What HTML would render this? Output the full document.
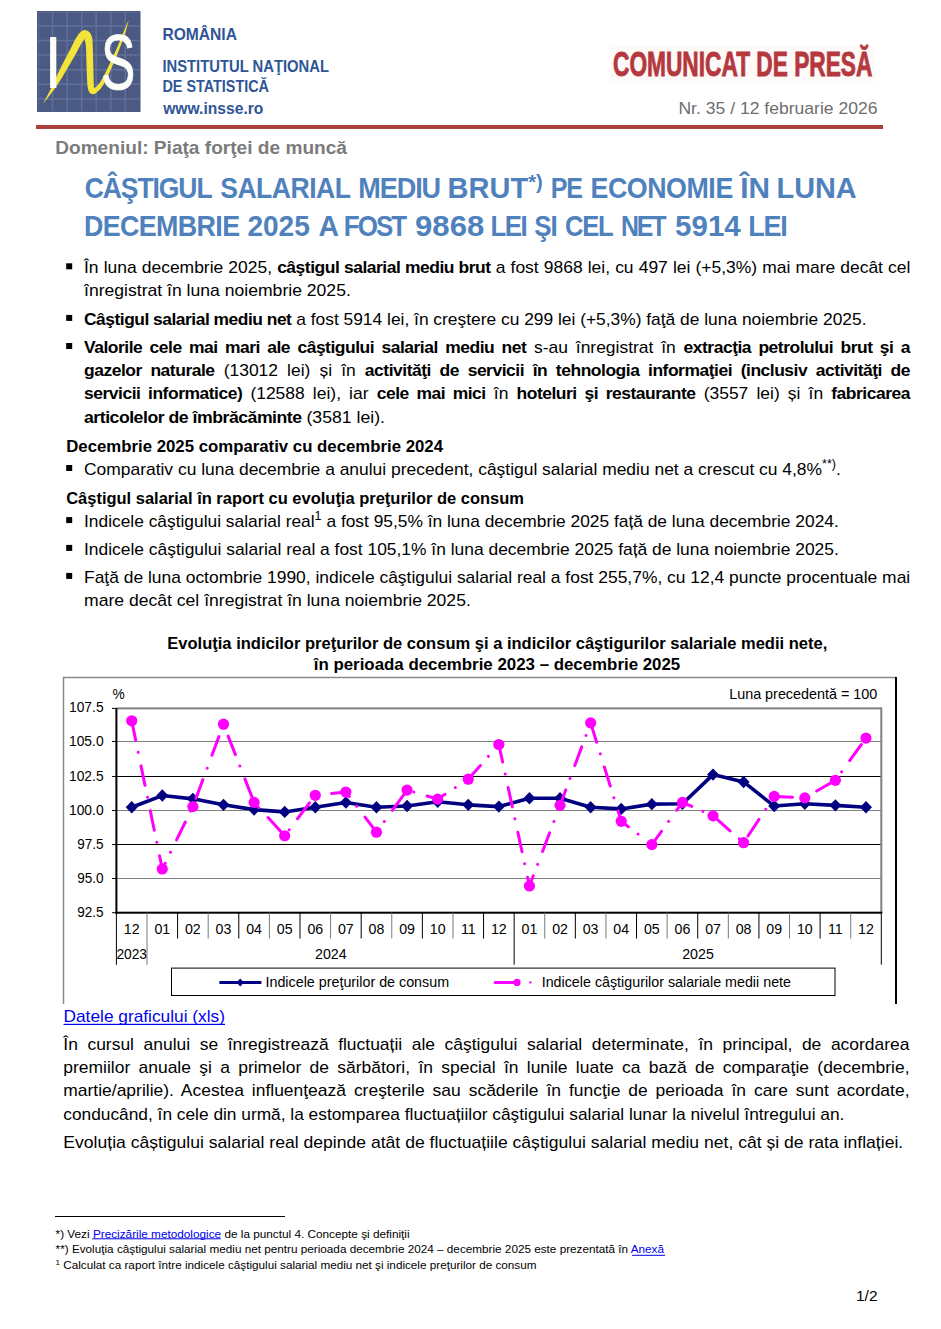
<!DOCTYPE html><html lang="ro"><head><meta charset="utf-8"><title>Comunicat de presă</title>
<style>html,body{margin:0;padding:0;background:#fff}body{width:941px;height:1329px;overflow:hidden}svg{display:block}text{font-family:'Liberation Sans', Arial, sans-serif}</style></head><body>
<svg width="941" height="1329" viewBox="0 0 941 1329">
<rect width="941" height="1329" fill="#fff"/>
<g id="logo">
<rect x="37" y="11" width="103.5" height="101" fill="#4b5a82"/>
<path d="M52.5 12V111 M67.1 12V111 M81.7 12V111 M96.2 12V111 M110.8 12V111 M125.3 12V111 M38 25.9H139.5 M38 40.5H139.5 M38 55.1H139.5 M38 69.7H139.5 M38 84.3H139.5 M38 98.9H139.5" stroke="#6676a0" stroke-width="1.5" fill="none" opacity="0.8"/>
<path d="M39 12V111M38 12.3H139.5" stroke="#6676a0" stroke-width="1.5" fill="none" opacity="0.35"/>
<path d="M43.73 102.98 L44.28 102.27 L45.02 101.33 L45.90 100.21 L46.88 98.95 L47.92 97.62 L48.97 96.25 L50.01 94.90 L50.98 93.61 L51.90 92.37 L52.82 91.14 L53.75 89.90 L54.68 88.64 L55.61 87.35 L56.56 86.00 L57.53 84.60 L58.51 83.12 L59.51 81.55 L60.54 79.90 L61.58 78.19 L62.62 76.44 L63.66 74.68 L64.70 72.91 L65.72 71.18 L66.72 69.48 L67.72 67.81 L68.72 66.11 L69.73 64.41 L70.73 62.72 L71.72 61.03 L72.69 59.37 L73.63 57.73 L74.54 56.14 L75.42 54.55 L76.27 52.98 L77.09 51.43 L77.89 49.92 L78.64 48.49 L79.37 47.14 L80.05 45.90 L80.69 44.78 L81.29 43.74 L81.86 42.79 L82.37 41.93 L82.85 41.17 L83.29 40.51 L83.70 39.95 L84.09 39.48 L84.47 39.09 L84.85 38.78 L85.19 38.57 L85.45 38.49 L85.57 38.54 L85.52 38.70 L85.24 38.89 L84.76 39.04 L84.25 39.05 L83.91 38.97 L83.74 38.86 L83.67 38.75 L83.68 38.67 L83.77 38.64 L83.91 38.67 L84.08 38.80 L84.28 39.07 L84.49 39.49 L84.72 40.04 L84.94 40.71 L85.15 41.52 L85.35 42.47 L85.54 43.58 L85.70 44.84 L85.86 46.24 L85.99 47.81 L86.08 49.60 L86.15 51.54 L86.20 53.61 L86.25 55.74 L86.29 57.90 L86.34 60.03 L86.40 62.10 L86.47 64.14 L86.54 66.25 L86.61 68.38 L86.69 70.50 L86.76 72.57 L86.84 74.56 L86.92 76.43 L87.00 78.13 L87.08 79.67 L87.16 81.11 L87.23 82.45 L87.31 83.71 L87.40 84.90 L87.52 86.03 L87.66 87.10 L87.84 88.10 L88.05 89.01 L88.28 89.85 L88.56 90.64 L88.88 91.40 L89.29 92.15 L89.83 92.87 L90.57 93.55 L91.58 94.10 L92.79 94.33 L93.89 94.19 L94.74 93.85 L95.42 93.45 L96.00 93.02 L96.53 92.57 L97.04 92.11 L97.53 91.65 L98.05 91.17 L98.62 90.65 L99.24 90.06 L99.90 89.40 L100.59 88.65 L101.30 87.80 L102.02 86.85 L102.74 85.78 L103.46 84.59 L104.18 83.30 L104.92 81.91 L105.66 80.45 L106.40 78.93 L107.14 77.39 L107.88 75.84 L108.61 74.30 L109.34 72.75 L110.08 71.15 L110.81 69.53 L111.55 67.89 L112.28 66.22 L113.01 64.54 L113.74 62.85 L114.46 61.15 L115.19 59.42 L115.93 57.66 L116.67 55.87 L117.40 54.07 L118.13 52.28 L118.84 50.49 L119.53 48.72 L120.20 46.99 L120.85 45.30 L121.49 43.63 L122.10 41.98 L122.71 40.34 L123.29 38.72 L123.86 37.10 L124.41 35.47 L124.94 33.84 L125.47 32.12 L126.01 30.27 L126.53 28.38 L127.04 26.52 L127.51 24.76 L127.92 23.18 L128.27 21.85 L128.54 20.85 L128.26 20.75 L127.86 21.71 L127.32 22.97 L126.69 24.48 L125.99 26.16 L125.24 27.93 L124.48 29.74 L123.75 31.50 L123.06 33.16 L122.41 34.74 L121.77 36.32 L121.13 37.90 L120.49 39.49 L119.85 41.10 L119.18 42.72 L118.50 44.35 L117.80 46.01 L117.06 47.70 L116.30 49.42 L115.52 51.17 L114.72 52.93 L113.92 54.68 L113.12 56.43 L112.32 58.16 L111.54 59.85 L110.76 61.52 L109.99 63.19 L109.22 64.84 L108.45 66.47 L107.69 68.08 L106.92 69.66 L106.16 71.20 L105.39 72.70 L104.60 74.20 L103.81 75.70 L103.01 77.19 L102.22 78.63 L101.44 80.00 L100.68 81.27 L99.95 82.42 L99.26 83.42 L98.61 84.27 L97.98 84.99 L97.37 85.62 L96.77 86.16 L96.19 86.65 L95.61 87.10 L95.03 87.53 L94.47 87.95 L93.94 88.35 L93.47 88.68 L93.07 88.94 L92.77 89.10 L92.62 89.15 L92.69 89.09 L93.08 89.02 L93.62 89.10 L94.03 89.28 L94.23 89.41 L94.29 89.40 L94.27 89.22 L94.21 88.89 L94.13 88.41 L94.05 87.80 L93.96 87.10 L93.88 86.33 L93.82 85.46 L93.78 84.48 L93.74 83.39 L93.71 82.18 L93.68 80.86 L93.64 79.42 L93.60 77.87 L93.55 76.18 L93.50 74.34 L93.45 72.37 L93.40 70.30 L93.35 68.19 L93.30 66.05 L93.25 63.94 L93.20 61.90 L93.15 59.86 L93.10 57.75 L93.05 55.59 L93.00 53.44 L92.94 51.34 L92.88 49.34 L92.82 47.46 L92.74 45.76 L92.67 44.26 L92.61 42.90 L92.55 41.64 L92.47 40.46 L92.37 39.33 L92.22 38.25 L92.01 37.19 L91.72 36.13 L91.32 35.06 L90.80 34.03 L90.19 33.08 L89.47 32.23 L88.64 31.49 L87.72 30.88 L86.71 30.43 L85.55 30.15 L84.25 30.12 L82.98 30.40 L81.91 30.89 L81.05 31.48 L80.36 32.13 L79.78 32.78 L79.26 33.43 L78.73 34.11 L78.19 34.83 L77.65 35.60 L77.12 36.40 L76.59 37.24 L76.05 38.13 L75.50 39.09 L74.92 40.11 L74.31 41.22 L73.66 42.46 L72.97 43.80 L72.27 45.21 L71.54 46.69 L70.79 48.21 L70.03 49.75 L69.25 51.31 L68.46 52.86 L67.64 54.44 L66.77 56.08 L65.87 57.76 L64.96 59.47 L64.03 61.21 L63.10 62.97 L62.18 64.74 L61.28 66.52 L60.39 68.32 L59.51 70.16 L58.63 72.01 L57.76 73.87 L56.90 75.71 L56.07 77.50 L55.27 79.23 L54.49 80.88 L53.75 82.45 L53.04 83.97 L52.36 85.44 L51.69 86.87 L51.03 88.27 L50.37 89.65 L49.70 91.02 L49.02 92.39 L48.30 93.82 L47.51 95.32 L46.71 96.84 L45.91 98.32 L45.15 99.72 L44.48 100.97 L43.90 102.02 L43.47 102.82Z" fill="#f4e33b"/>
<text x="0" y="0" font-size="73.3" fill="#fdfdf8" transform="translate(43.9 87.8) scale(0.9 1)">I</text>
<text x="0" y="0" font-size="78" fill="#fdfdf8" stroke="#fdfdf8" stroke-width="0.7" transform="translate(100.9 89) scale(0.66 1)">S</text>
</g>
<text x="162.4" y="40" font-size="16.9" font-weight="700" fill="#2f5597" textLength="74.6" lengthAdjust="spacingAndGlyphs">ROMÂNIA</text>
<text x="162.4" y="71.5" font-size="16.9" font-weight="700" fill="#2f5597" textLength="166.6" lengthAdjust="spacingAndGlyphs">INSTITUTUL NAŢIONAL</text>
<text x="162.4" y="92" font-size="16.9" font-weight="700" fill="#2f5597" textLength="106.6" lengthAdjust="spacingAndGlyphs">DE STATISTICĂ</text>
<text x="163.2" y="114.3" font-size="16.9" font-weight="700" fill="#2f5597" textLength="100.2" lengthAdjust="spacingAndGlyphs">www.insse.ro</text>
<rect x="610" y="46" width="265" height="36.5" fill="#fefaf8"/>
<text x="613" y="76.3" font-size="35.3" font-weight="700" fill="#b5383f" textLength="259.4" lengthAdjust="spacingAndGlyphs" stroke="#b5383f" stroke-width="0.9">COMUNICAT DE PRESĂ</text>
<text x="877.6" y="114.4" font-size="17" fill="#6e6e6e" text-anchor="end" textLength="199.2" lengthAdjust="spacingAndGlyphs">Nr. 35 / 12 februarie 2026</text>
<rect x="36" y="125" width="847" height="4" fill="#aa3f3d"/>
<text x="55.2" y="153.6" font-size="18.6" font-weight="700" fill="#7b7b7b" textLength="291.8" lengthAdjust="spacingAndGlyphs">Domeniul: Piaţa forţei de muncă</text>
<g font-weight="700" fill="#4f81bd" font-size="28.9">
<text x="84.70" y="198" textLength="126.80" lengthAdjust="spacingAndGlyphs" letter-spacing="-1.20">CÂŞTIGUL</text>
<text x="220.20" y="198" textLength="130.30" lengthAdjust="spacingAndGlyphs" letter-spacing="-0.53">SALARIAL</text>
<text x="358.20" y="198" textLength="81.90" lengthAdjust="spacingAndGlyphs" letter-spacing="-1.13">MEDIU</text>
<text x="447.60" y="198" textLength="80.50" lengthAdjust="spacingAndGlyphs" letter-spacing="0.00">BRUT</text>
<text x="550.70" y="198" textLength="31.00" lengthAdjust="spacingAndGlyphs" letter-spacing="-1.42">PE</text>
<text x="590.50" y="198" textLength="142.30" lengthAdjust="spacingAndGlyphs" letter-spacing="-0.46">ECONOMIE</text>
<text x="740.30" y="198" textLength="29.80" lengthAdjust="spacingAndGlyphs" letter-spacing="0.00">ÎN</text>
<text x="776.50" y="198" textLength="80.20" lengthAdjust="spacingAndGlyphs" letter-spacing="0.00">LUNA</text>
<text x="84.00" y="235.8" textLength="155.50" lengthAdjust="spacingAndGlyphs" letter-spacing="-0.66">DECEMBRIE</text>
<text x="247.40" y="235.8" textLength="62.40" lengthAdjust="spacingAndGlyphs" letter-spacing="0.00">2025</text>
<text x="318.60" y="235.8" textLength="20.50" lengthAdjust="spacingAndGlyphs" letter-spacing="0.00">A</text>
<text x="343.80" y="235.8" textLength="61.50" lengthAdjust="spacingAndGlyphs" letter-spacing="-2.14">FOST</text>
<text x="415.10" y="235.8" textLength="69.10" lengthAdjust="spacingAndGlyphs" letter-spacing="0.00">9868</text>
<text x="490.60" y="235.8" textLength="35.40" lengthAdjust="spacingAndGlyphs" letter-spacing="-1.79">LEI</text>
<text x="534.30" y="235.8" textLength="22.20" lengthAdjust="spacingAndGlyphs" letter-spacing="-1.28">ŞI</text>
<text x="565.00" y="235.8" textLength="47.40" lengthAdjust="spacingAndGlyphs" letter-spacing="-1.42">CEL</text>
<text x="621.00" y="235.8" textLength="43.30" lengthAdjust="spacingAndGlyphs" letter-spacing="-2.50">NET</text>
<text x="675.10" y="235.8" textLength="65.60" lengthAdjust="spacingAndGlyphs" letter-spacing="0.00">5914</text>
<text x="748.20" y="235.8" textLength="38.20" lengthAdjust="spacingAndGlyphs" letter-spacing="-1.36">LEI</text>
<text x="528.2" y="189" font-size="20" textLength="14.6" lengthAdjust="spacingAndGlyphs">*)</text>
</g>
<rect x="66.2" y="263.3" width="6" height="6" fill="#000"/>
<text x="84" y="273.1" font-size="16.6" textLength="826.4" lengthAdjust="spacingAndGlyphs" word-spacing="0.24">În luna decembrie 2025, <tspan font-weight="700" letter-spacing="-0.45">câştigul salarial mediu brut</tspan> a fost 9868 lei, cu 497 lei (+5,3%) mai mare decât cel</text>
<text x="84" y="296" font-size="16.6" textLength="266.8" lengthAdjust="spacingAndGlyphs">înregistrat în luna noiembrie 2025.</text>
<rect x="66.2" y="314.9" width="6" height="6" fill="#000"/>
<text x="84" y="324.7" font-size="16.6" textLength="782.5" lengthAdjust="spacingAndGlyphs"><tspan font-weight="700" letter-spacing="-0.45">Câştigul salarial mediu net</tspan> a fost 5914 lei, în creştere cu 299 lei (+5,3%) faţă de luna noiembrie 2025.</text>
<rect x="66.2" y="343" width="6" height="6" fill="#000"/>
<text x="84" y="352.8" font-size="16.6" textLength="826" lengthAdjust="spacingAndGlyphs" word-spacing="2.79"><tspan font-weight="700" letter-spacing="-0.45">Valorile cele mai mari ale câştigului salarial mediu net</tspan> s-au înregistrat în <tspan font-weight="700" letter-spacing="-0.45">extracţia petrolului brut şi a</tspan></text>
<text x="84" y="375.9" font-size="16.6" textLength="826" lengthAdjust="spacingAndGlyphs" word-spacing="4.04"><tspan font-weight="700" letter-spacing="-0.45">gazelor naturale</tspan> (13012 lei) și în <tspan font-weight="700" letter-spacing="-0.45">activităţi de servicii în tehnologia informaţiei (inclusiv activităţi de</tspan></text>
<text x="84" y="399" font-size="16.6" textLength="826" lengthAdjust="spacingAndGlyphs" word-spacing="3.11"><tspan font-weight="700" letter-spacing="-0.45">servicii informatice)</tspan> (12588 lei), iar <tspan font-weight="700" letter-spacing="-0.45">cele mai mici</tspan> în <tspan font-weight="700" letter-spacing="-0.45">hoteluri şi restaurante</tspan> (3557 lei) și în <tspan font-weight="700" letter-spacing="-0.45">fabricarea</tspan></text>
<text x="84" y="423.2" font-size="16.6" textLength="301" lengthAdjust="spacingAndGlyphs"><tspan font-weight="700" letter-spacing="-0.45">articolelor de îmbrăcăminte</tspan> (3581 lei).</text>
<rect x="66.2" y="465" width="6" height="6" fill="#000"/>
<text x="84" y="474.8" font-size="16.6" textLength="756.9" lengthAdjust="spacingAndGlyphs">Comparativ cu luna decembrie a anului precedent, câştigul salarial mediu net a crescut cu 4,8%<tspan dy="-6.5" font-size="12">**)</tspan><tspan dy="6.5">.</tspan></text>
<rect x="66.2" y="517.1" width="6" height="6" fill="#000"/>
<text x="84" y="526.9" font-size="16.6" textLength="754.8" lengthAdjust="spacingAndGlyphs">Indicele câştigului salarial real<tspan dy="-6.5" font-size="12">1</tspan><tspan dy="6.5"> a fost 95,5% în luna decembrie 2025 față de luna decembrie 2024.</tspan></text>
<rect x="66.2" y="544.9" width="6" height="6" fill="#000"/>
<text x="84" y="554.7" font-size="16.6" textLength="754.8" lengthAdjust="spacingAndGlyphs">Indicele câştigului salarial real a fost 105,1% în luna decembrie 2025 față de luna noiembrie 2025.</text>
<rect x="66.2" y="572.9" width="6" height="6" fill="#000"/>
<text x="84" y="582.7" font-size="16.6" textLength="826.2" lengthAdjust="spacingAndGlyphs">Faţă de luna octombrie 1990, indicele câştigului salarial real a fost 255,7%, cu 12,4 puncte procentuale mai</text>
<text x="84" y="606" font-size="16.6" textLength="386.8" lengthAdjust="spacingAndGlyphs">mare decât cel înregistrat în luna noiembrie 2025.</text>
<text x="66.2" y="452.1" font-size="16.6" textLength="376.8" lengthAdjust="spacingAndGlyphs"><tspan font-weight="700">Decembrie 2025 comparativ cu decembrie 2024</tspan></text>
<text x="66.2" y="504.4" font-size="16.6" textLength="457.8" lengthAdjust="spacingAndGlyphs"><tspan font-weight="700">Câştigul salarial în raport cu evoluţia preţurilor de consum</tspan></text>
<text x="497.3" y="648.6" font-size="16.6" text-anchor="middle" textLength="660" lengthAdjust="spacingAndGlyphs"><tspan font-weight="700">Evoluţia indicilor preţurilor de consum şi a indicilor câştigurilor salariale medii nete,</tspan></text>
<text x="497" y="670.3" font-size="16.6" text-anchor="middle" textLength="366.5" lengthAdjust="spacingAndGlyphs"><tspan font-weight="700">în perioada decembrie 2023 – decembrie 2025</tspan></text>
<path d="M63.5 1004V677.5H896" stroke="#8a8a8a" stroke-width="1.5" fill="none"/>
<rect x="895" y="677" width="2" height="327" fill="#000"/>
<rect x="116.4" y="707.4" width="764.9" height="2" fill="#808080"/>
<rect x="112" y="707.9" width="4.4" height="1" fill="#000"/>
<text x="103.6" y="712.1" font-size="14.5" text-anchor="end" textLength="34.6" lengthAdjust="spacingAndGlyphs">107.5</text>
<rect x="116.4" y="741" width="764.9" height="1" fill="#808080"/>
<rect x="112" y="741" width="4.4" height="1" fill="#000"/>
<text x="103.6" y="746.3" font-size="14.5" text-anchor="end" textLength="34.6" lengthAdjust="spacingAndGlyphs">105.0</text>
<rect x="116.4" y="776" width="764.9" height="1" fill="#000"/>
<rect x="112" y="776" width="4.4" height="1" fill="#000"/>
<text x="103.6" y="780.5" font-size="14.5" text-anchor="end" textLength="34.6" lengthAdjust="spacingAndGlyphs">102.5</text>
<rect x="116.4" y="810" width="764.9" height="1" fill="#808080"/>
<rect x="112" y="810" width="4.4" height="1" fill="#000"/>
<text x="103.6" y="814.7" font-size="14.5" text-anchor="end" textLength="34.6" lengthAdjust="spacingAndGlyphs">100.0</text>
<rect x="116.4" y="844" width="764.9" height="1" fill="#000"/>
<rect x="112" y="844" width="4.4" height="1" fill="#000"/>
<text x="103.6" y="848.9" font-size="14.5" text-anchor="end" textLength="26.4" lengthAdjust="spacingAndGlyphs">97.5</text>
<rect x="116.4" y="878" width="764.9" height="1" fill="#808080"/>
<rect x="112" y="878" width="4.4" height="1" fill="#000"/>
<text x="103.6" y="883.1" font-size="14.5" text-anchor="end" textLength="26.4" lengthAdjust="spacingAndGlyphs">95.0</text>
<rect x="112" y="912.2" width="4.4" height="1" fill="#000"/>
<text x="103.6" y="917.3" font-size="14.5" text-anchor="end" textLength="26.4" lengthAdjust="spacingAndGlyphs">92.5</text>
<rect x="880.3" y="707.4" width="2" height="205.3" fill="#808080"/>
<rect x="115.4" y="708.4" width="2" height="205.3" fill="#000"/>
<rect x="115.4" y="911.7" width="766.9" height="2" fill="#000"/>
<rect x="115.90" y="912.7" width="1" height="52" fill="#000"/>
<rect x="146.50" y="912.7" width="1" height="52" fill="#7a7a7a"/>
<rect x="177.09" y="912.7" width="1" height="25.8" fill="#000"/>
<rect x="207.69" y="912.7" width="1" height="25.8" fill="#7a7a7a"/>
<rect x="238.28" y="912.7" width="1" height="25.8" fill="#000"/>
<rect x="268.88" y="912.7" width="1" height="25.8" fill="#7a7a7a"/>
<rect x="299.48" y="912.7" width="1" height="25.8" fill="#000"/>
<rect x="330.07" y="912.7" width="1" height="25.8" fill="#7a7a7a"/>
<rect x="360.67" y="912.7" width="1" height="25.8" fill="#000"/>
<rect x="391.26" y="912.7" width="1" height="25.8" fill="#7a7a7a"/>
<rect x="421.86" y="912.7" width="1" height="25.8" fill="#000"/>
<rect x="452.46" y="912.7" width="1" height="25.8" fill="#7a7a7a"/>
<rect x="483.05" y="912.7" width="1" height="25.8" fill="#000"/>
<rect x="513.65" y="912.7" width="1" height="52" fill="#000"/>
<rect x="544.24" y="912.7" width="1" height="25.8" fill="#7a7a7a"/>
<rect x="574.84" y="912.7" width="1" height="25.8" fill="#000"/>
<rect x="605.44" y="912.7" width="1" height="25.8" fill="#7a7a7a"/>
<rect x="636.03" y="912.7" width="1" height="25.8" fill="#000"/>
<rect x="666.63" y="912.7" width="1" height="25.8" fill="#7a7a7a"/>
<rect x="697.22" y="912.7" width="1" height="25.8" fill="#000"/>
<rect x="727.82" y="912.7" width="1" height="25.8" fill="#7a7a7a"/>
<rect x="758.42" y="912.7" width="1" height="25.8" fill="#000"/>
<rect x="789.01" y="912.7" width="1" height="25.8" fill="#7a7a7a"/>
<rect x="819.61" y="912.7" width="1" height="25.8" fill="#000"/>
<rect x="850.20" y="912.7" width="1" height="25.8" fill="#7a7a7a"/>
<rect x="880.80" y="912.7" width="1" height="52" fill="#000"/>
<text x="131.698" y="934.1" font-size="14.2" text-anchor="middle">12</text>
<text x="162.294" y="934.1" font-size="14.2" text-anchor="middle">01</text>
<text x="192.89" y="934.1" font-size="14.2" text-anchor="middle">02</text>
<text x="223.486" y="934.1" font-size="14.2" text-anchor="middle">03</text>
<text x="254.082" y="934.1" font-size="14.2" text-anchor="middle">04</text>
<text x="284.678" y="934.1" font-size="14.2" text-anchor="middle">05</text>
<text x="315.274" y="934.1" font-size="14.2" text-anchor="middle">06</text>
<text x="345.87" y="934.1" font-size="14.2" text-anchor="middle">07</text>
<text x="376.466" y="934.1" font-size="14.2" text-anchor="middle">08</text>
<text x="407.062" y="934.1" font-size="14.2" text-anchor="middle">09</text>
<text x="437.658" y="934.1" font-size="14.2" text-anchor="middle">10</text>
<text x="468.254" y="934.1" font-size="14.2" text-anchor="middle">11</text>
<text x="498.85" y="934.1" font-size="14.2" text-anchor="middle">12</text>
<text x="529.446" y="934.1" font-size="14.2" text-anchor="middle">01</text>
<text x="560.042" y="934.1" font-size="14.2" text-anchor="middle">02</text>
<text x="590.638" y="934.1" font-size="14.2" text-anchor="middle">03</text>
<text x="621.234" y="934.1" font-size="14.2" text-anchor="middle">04</text>
<text x="651.83" y="934.1" font-size="14.2" text-anchor="middle">05</text>
<text x="682.426" y="934.1" font-size="14.2" text-anchor="middle">06</text>
<text x="713.022" y="934.1" font-size="14.2" text-anchor="middle">07</text>
<text x="743.618" y="934.1" font-size="14.2" text-anchor="middle">08</text>
<text x="774.214" y="934.1" font-size="14.2" text-anchor="middle">09</text>
<text x="804.81" y="934.1" font-size="14.2" text-anchor="middle">10</text>
<text x="835.406" y="934.1" font-size="14.2" text-anchor="middle">11</text>
<text x="866.002" y="934.1" font-size="14.2" text-anchor="middle">12</text>
<text x="131.7" y="959.4" font-size="14.2" text-anchor="middle" textLength="30.6" lengthAdjust="spacingAndGlyphs">2023</text>
<text x="330.8" y="959.4" font-size="14.2" text-anchor="middle">2024</text>
<text x="698" y="959.4" font-size="14.2" text-anchor="middle">2025</text>
<text x="877.3" y="699.4" font-size="14.8" text-anchor="end" textLength="148.1" lengthAdjust="spacingAndGlyphs">Luna precedentă = 100</text>
<text x="112.6" y="698.8" font-size="15" textLength="12.2" lengthAdjust="spacingAndGlyphs">%</text>
<polyline points="131.70,807.28 162.29,795.57 192.89,798.84 223.49,804.83 254.08,809.60 284.68,811.91 315.27,807.28 345.87,802.51 376.47,807.28 407.06,806.06 437.66,801.83 468.25,804.83 498.85,806.60 529.45,798.29 560.04,798.29 590.64,807.28 621.23,808.92 651.83,804.15 682.43,803.74 713.02,774.59 743.62,781.95 774.21,806.06 804.81,803.74 835.41,805.37 866.00,807.28" fill="none" stroke="#000080" stroke-width="3.6" stroke-linejoin="round"/>
<path d="M131.70 801.08l6 6.2l-6 6.2l-6 -6.2z" fill="#000080"/>
<path d="M162.29 789.37l6 6.2l-6 6.2l-6 -6.2z" fill="#000080"/>
<path d="M192.89 792.64l6 6.2l-6 6.2l-6 -6.2z" fill="#000080"/>
<path d="M223.49 798.63l6 6.2l-6 6.2l-6 -6.2z" fill="#000080"/>
<path d="M254.08 803.40l6 6.2l-6 6.2l-6 -6.2z" fill="#000080"/>
<path d="M284.68 805.71l6 6.2l-6 6.2l-6 -6.2z" fill="#000080"/>
<path d="M315.27 801.08l6 6.2l-6 6.2l-6 -6.2z" fill="#000080"/>
<path d="M345.87 796.31l6 6.2l-6 6.2l-6 -6.2z" fill="#000080"/>
<path d="M376.47 801.08l6 6.2l-6 6.2l-6 -6.2z" fill="#000080"/>
<path d="M407.06 799.86l6 6.2l-6 6.2l-6 -6.2z" fill="#000080"/>
<path d="M437.66 795.63l6 6.2l-6 6.2l-6 -6.2z" fill="#000080"/>
<path d="M468.25 798.63l6 6.2l-6 6.2l-6 -6.2z" fill="#000080"/>
<path d="M498.85 800.40l6 6.2l-6 6.2l-6 -6.2z" fill="#000080"/>
<path d="M529.45 792.09l6 6.2l-6 6.2l-6 -6.2z" fill="#000080"/>
<path d="M560.04 792.09l6 6.2l-6 6.2l-6 -6.2z" fill="#000080"/>
<path d="M590.64 801.08l6 6.2l-6 6.2l-6 -6.2z" fill="#000080"/>
<path d="M621.23 802.72l6 6.2l-6 6.2l-6 -6.2z" fill="#000080"/>
<path d="M651.83 797.95l6 6.2l-6 6.2l-6 -6.2z" fill="#000080"/>
<path d="M682.43 797.54l6 6.2l-6 6.2l-6 -6.2z" fill="#000080"/>
<path d="M713.02 768.39l6 6.2l-6 6.2l-6 -6.2z" fill="#000080"/>
<path d="M743.62 775.75l6 6.2l-6 6.2l-6 -6.2z" fill="#000080"/>
<path d="M774.21 799.86l6 6.2l-6 6.2l-6 -6.2z" fill="#000080"/>
<path d="M804.81 797.54l6 6.2l-6 6.2l-6 -6.2z" fill="#000080"/>
<path d="M835.41 799.17l6 6.2l-6 6.2l-6 -6.2z" fill="#000080"/>
<path d="M866.00 801.08l6 6.2l-6 6.2l-6 -6.2z" fill="#000080"/>
<polyline points="131.70,720.79 162.29,868.98 192.89,806.60 223.49,724.20 254.08,802.38 284.68,835.75 315.27,795.30 345.87,792.03 376.47,832.21 407.06,790.12 437.66,799.11 468.25,779.22 498.85,744.49 529.45,886.00 560.04,805.37 590.64,722.84 621.23,821.31 651.83,844.60 682.43,802.38 713.02,815.86 743.62,842.69 774.21,796.39 804.81,797.88 835.41,780.31 866.00,738.09" fill="none" stroke="#ff00ff" stroke-width="3" stroke-dasharray="19.9 12.2 0.01 13.8" stroke-dashoffset="-0.1" stroke-linecap="round" stroke-linejoin="round"/>
<g fill="#ff00ff"><circle cx="131.70" cy="720.79" r="5.6"/><circle cx="162.29" cy="868.98" r="5.6"/><circle cx="192.89" cy="806.60" r="5.6"/><circle cx="223.49" cy="724.20" r="5.6"/><circle cx="254.08" cy="802.38" r="5.6"/><circle cx="284.68" cy="835.75" r="5.6"/><circle cx="315.27" cy="795.30" r="5.6"/><circle cx="345.87" cy="792.03" r="5.6"/><circle cx="376.47" cy="832.21" r="5.6"/><circle cx="407.06" cy="790.12" r="5.6"/><circle cx="437.66" cy="799.11" r="5.6"/><circle cx="468.25" cy="779.22" r="5.6"/><circle cx="498.85" cy="744.49" r="5.6"/><circle cx="529.45" cy="886.00" r="5.6"/><circle cx="560.04" cy="805.37" r="5.6"/><circle cx="590.64" cy="722.84" r="5.6"/><circle cx="621.23" cy="821.31" r="5.6"/><circle cx="651.83" cy="844.60" r="5.6"/><circle cx="682.43" cy="802.38" r="5.6"/><circle cx="713.02" cy="815.86" r="5.6"/><circle cx="743.62" cy="842.69" r="5.6"/><circle cx="774.21" cy="796.39" r="5.6"/><circle cx="804.81" cy="797.88" r="5.6"/><circle cx="835.41" cy="780.31" r="5.6"/><circle cx="866.00" cy="738.09" r="5.6"/></g>
<rect x="171.5" y="968.1" width="663.5" height="27.4" fill="none" stroke="#000" stroke-width="1"/>
<rect x="219.4" y="981" width="42" height="3" fill="#000080"/>
<path d="M240.2 978.6l3.6 3.9l-3.6 3.9l-3.6 -3.9z" fill="#000080"/>
<text x="265.5" y="986.6" font-size="14.3">Indicele preţurilor de consum</text>
<line x1="495.2" y1="982.4" x2="517" y2="982.4" stroke="#ff00ff" stroke-width="3" stroke-linecap="round"/>
<circle cx="517" cy="982.4" r="3.6" fill="#ff00ff"/>
<circle cx="530.4" cy="982.4" r="1.2" fill="#ff00ff"/>
<text x="541.7" y="986.6" font-size="14.3" textLength="249.3" lengthAdjust="spacingAndGlyphs">Indicele câştigurilor salariale medii nete</text>
<text x="63.5" y="1022" font-size="16.6" textLength="161.5" lengthAdjust="spacingAndGlyphs"><tspan fill="#0000ee">Datele graficului (xls)</tspan></text>
<rect x="63.5" y="1023.8" width="161.5" height="1.2" fill="#0000ee"/>
<text x="63.3" y="1050" font-size="16.6" textLength="846.2" lengthAdjust="spacingAndGlyphs" word-spacing="4.47">În cursul anului se înregistrează fluctuații ale câştigului salarial determinate, în principal, de acordarea</text>
<text x="63.3" y="1072.7" font-size="16.6" textLength="846.2" lengthAdjust="spacingAndGlyphs" word-spacing="3.29">premiilor anuale şi a primelor de sărbători, în special în lunile luate ca bază de comparaţie (decembrie,</text>
<text x="63.3" y="1096" font-size="16.6" textLength="846.2" lengthAdjust="spacingAndGlyphs" word-spacing="2.91">martie/aprilie). Acestea influenţează creşterile sau scăderile în funcţie de perioada în care sunt acordate,</text>
<text x="63.3" y="1120" font-size="16.6" textLength="781.1" lengthAdjust="spacingAndGlyphs">conducând, în cele din urmă, la estomparea fluctuațiilor câştigului salarial lunar la nivelul întregului an.</text>
<text x="63.3" y="1147.8" font-size="16.6" textLength="839.9" lengthAdjust="spacingAndGlyphs">Evoluția câștigului salarial real depinde atât de fluctuațiile câștigului salarial mediu net, cât și de rata inflației.</text>
<rect x="55" y="1216" width="230" height="1" fill="#000"/>
<text x="55.6" y="1237.7" font-size="10.3" textLength="354" lengthAdjust="spacingAndGlyphs">*) Vezi <tspan fill="#0000ee">Precizările metodologice</tspan> de la punctul 4. Concepte şi definiţii</text>
<text x="55.6" y="1253" font-size="10.3" textLength="608.4" lengthAdjust="spacingAndGlyphs">**) Evoluţia câştigului salarial mediu net pentru perioada decembrie 2024 – decembrie 2025 este prezentată în <tspan fill="#0000ee">Anexă</tspan></text>
<rect x="92.2" y="1238.3" width="128.6" height="1" fill="#0000ee"/>
<rect x="632.1" y="1254.8" width="32.9" height="1" fill="#0000ee"/>
<text x="55.6" y="1268.8" font-size="10.3" textLength="480.9" lengthAdjust="spacingAndGlyphs"><tspan dy="-4" font-size="7">1</tspan><tspan dy="4"> Calculat ca raport între indicele câştigului salarial mediu net şi indicele preţurilor de consum</tspan></text>
<text x="856" y="1300.8" font-size="15" textLength="21.5" lengthAdjust="spacingAndGlyphs">1/2</text>
</svg></body></html>
